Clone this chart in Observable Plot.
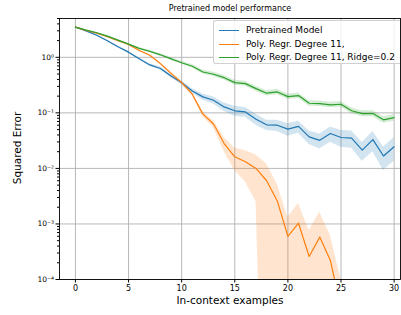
<!DOCTYPE html>
<html>
<head>
<meta charset="utf-8">
<script src="https://cdn.jsdelivr.net/npm/d3@7"></script>
<script src="https://cdn.jsdelivr.net/npm/@observablehq/plot@0.6"></script>
<style>
  html, body { margin: 0; padding: 0; background: white; }
  #wrap { position: relative; width: 401px; height: 315px; overflow: hidden; font-family: "DejaVu Sans", sans-serif; }
  #wrap svg { display: block; }
  .title { position: absolute; top: 4px; left: 59px; width: 342px; text-align: center; font-size: 8px; }
  .ylab { position: absolute; left: 17px; top: 148px; transform: translate(-50%, -50%) rotate(-90deg); font-size: 10.5px; white-space: nowrap; }
  .xlab { position: absolute; top: 294px; left: 59px; width: 342px; text-align: center; font-size: 10.5px; }
  .legend { position: absolute; left: 213px; top: 20px; width: 186px; height: 42px; border: 1px solid #d0d0d0; border-right: none; border-radius: 3px 0 0 3px; background: rgba(255,255,255,0.8); font-size: 9px; }
  .row { position: absolute; left: 4px; height: 12px; white-space: nowrap; }
  .row .sw { position: absolute; left: 1px; top: 6px; width: 20px; height: 0; border-top: 1.6px solid; }
  .row .lb { position: absolute; left: 28px; top: 0; line-height: 12px; }
</style>
</head>
<body>
<div id="wrap"></div>
<script>
// ---- data ----
const examples = [0,1,2,3,4,5,6,7,8,9,10,11,12,13,14,15,16,17,18,19,20,21,22,23,24,25,26,27,28,29,30];
const seriesNames = ["Pretrained Model", "Poly. Regr. Degree 11,", "Poly. Regr. Degree 11, Ridge=0.2"];
const seriesColors = ["#1f77b4", "#ff7f0e", "#2ca02c"];

const pretrainedMean = [3.5, 3.0, 2.5, 1.99, 1.55, 1.24, 0.94, 0.73, 0.63, 0.46, 0.35, 0.248, 0.194, 0.169, 0.128, 0.109, 0.104, 0.077, 0.061, 0.060, 0.051, 0.057, 0.037, 0.032, 0.0425, 0.036, 0.035, 0.0214, 0.033, 0.0167, 0.0245];
const pretrainedStd  = [0.07, 0.06, 0.075, 0.06, 0.047, 0.05, 0.038, 0.037, 0.038, 0.032, 0.028, 0.025, 0.025, 0.025, 0.022, 0.022, 0.021, 0.017, 0.013, 0.014, 0.013, 0.014, 0.010, 0.0096, 0.013, 0.012, 0.012, 0.008, 0.013, 0.0075, 0.011];

const polyMean = [3.5, 3.05, 2.72, 2.35, 2.0, 1.71, 1.33, 1.09, 0.77, 0.515, 0.35, 0.217, 0.095, 0.063, 0.028, 0.0162, 0.0132, 0.0100, 0.0060, 0.0026, 0.0006, 0.00103, 0.00026, 0.00058, 0.00022, 0.00003, 0.00001, 0.00001, 0.00001, 0.00001, 0.00001];
const polyStd  = [0.05, 0.05, 0.05, 0.05, 0.05, 0.05, 0.04, 0.04, 0.04, 0.03, 0.02, 0.015, 0.01, 0.009, 0.008, 0.007, 0.0075, 0.0075, 0.006, 0.0026, 0.00072, 0.0013, 0.0005, 0.00104, 0.0004, 0.00007, 0.00001, 0.00001, 0.00001, 0.00001, 0.00001];

const ridgeMean = [3.5, 3.09, 2.77, 2.41, 2.04, 1.73, 1.45, 1.28, 1.11, 0.94, 0.80, 0.69, 0.545, 0.495, 0.43, 0.35, 0.336, 0.273, 0.226, 0.238, 0.196, 0.205, 0.149, 0.147, 0.139, 0.143, 0.109, 0.097, 0.097, 0.075, 0.082];
const ridgeStd  = [0.05, 0.05, 0.05, 0.05, 0.05, 0.05, 0.05, 0.05, 0.05, 0.05, 0.05, 0.05, 0.045, 0.045, 0.04, 0.035, 0.035, 0.03, 0.025, 0.027, 0.022, 0.023, 0.017, 0.017, 0.016, 0.017, 0.013, 0.012, 0.012, 0.01, 0.011];

const xTicks = [0, 5, 10, 15, 20, 25, 30];
const yTicks = [1e-4, 1e-3, 1e-2, 1e-1, 1];
const yTickLabels = ["10⁻⁴", "10⁻³", "10⁻²", "10⁻¹", "10⁰"];
const minorMultipliers = [2, 3, 4, 5, 6, 7, 8, 9];

// ---- build tables ----
const means = [pretrainedMean, polyMean, ridgeMean];
const stds = [pretrainedStd, polyStd, ridgeStd];
const rows = [];
seriesNames.forEach((name, si) => {
  examples.forEach((x, i) => {
    const m = means[si][i], s = stds[si][i];
    rows.push({series: name, x, mean: m, lo: Math.max(m - s, 1e-9), hi: m + s});
  });
});
const minorTicks = [];
yTicks.forEach(t => minorMultipliers.forEach(k => { const v = t * k; if (v <= 5) minorTicks.push(v); }));

const marks = [
  Plot.gridX(xTicks, {stroke: "#b0b0b0", strokeOpacity: 1, strokeWidth: 0.9}),
  Plot.gridY(yTicks, {stroke: "#b0b0b0", strokeOpacity: 1, strokeWidth: 0.9})
];
seriesNames.forEach((name, si) => {
  const data = rows.filter(r => r.series === name);
  marks.push(Plot.areaY(data, {x: "x", y1: "lo", y2: "hi", fill: seriesColors[si], fillOpacity: 0.2, clip: true}));
  marks.push(Plot.lineY(data, {x: "x", y: "mean", stroke: seriesColors[si], strokeWidth: 1.2, clip: true}));
});
marks.push(
  Plot.frame({stroke: "black", strokeWidth: 0.9}),
  Plot.axisX(xTicks, {tickSize: 3.5, tickPadding: 2, label: null, fontSize: 8}),
  Plot.axisY(yTicks, {tickSize: 3.5, tickPadding: 2, label: null, fontSize: 7.5,
    tickFormat: d => yTickLabels[yTicks.indexOf(d)]}),
  Plot.axisY(minorTicks, {tickSize: 2, label: null, tickFormat: () => ""})
);

const chart = Plot.plot({
  width: 401, height: 315,
  marginTop: 18, marginBottom: 36, marginLeft: 59, marginRight: 1,
  x: {domain: [-1.5, 30.6]},
  y: {type: "log", domain: [1e-4, 5]},
  style: {fontFamily: "DejaVu Sans", fontSize: "8px", color: "black", background: "white"},
  marks
});

const wrap = document.getElementById("wrap");
wrap.appendChild(chart);

const title = document.createElement("div");
title.className = "title"; title.textContent = "Pretrained model performance";
wrap.appendChild(title);
const ylab = document.createElement("div");
ylab.className = "ylab"; ylab.textContent = "Squared Error";
wrap.appendChild(ylab);
const xlab = document.createElement("div");
xlab.className = "xlab"; xlab.textContent = "In-context examples";
wrap.appendChild(xlab);

const legend = document.createElement("div");
legend.className = "legend";
seriesNames.forEach((name, si) => {
  const row = document.createElement("div");
  row.className = "row";
  row.style.top = (3 + si * 13.7) + "px";
  const sw = document.createElement("span"); sw.className = "sw"; sw.style.borderColor = seriesColors[si];
  const lb = document.createElement("span"); lb.className = "lb"; lb.textContent = name;
  row.appendChild(sw); row.appendChild(lb);
  legend.appendChild(row);
});
wrap.appendChild(legend);
</script>
</body>
</html>
